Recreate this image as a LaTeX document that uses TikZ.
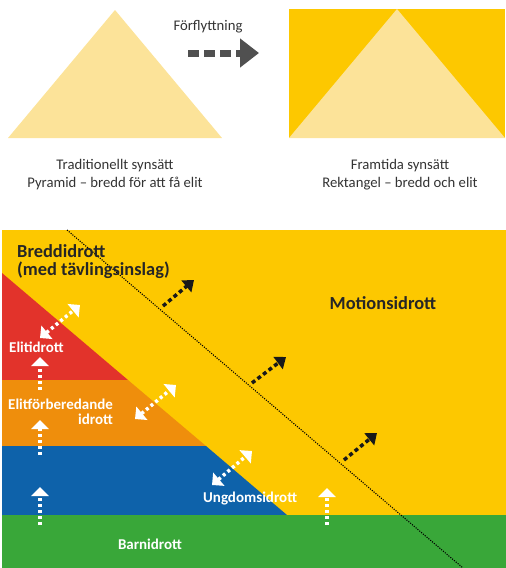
\documentclass[tikz,border=0pt]{standalone}
\usepackage{fontspec}
\setmainfont{Carlito}
\usepackage{tikz}
\usetikzlibrary{arrows.meta, positioning}
\usepackage{xcolor}

\definecolor{ljusgul}{HTML}{FCE399}
\definecolor{gul}{HTML}{FDC800}
\definecolor{rod}{HTML}{E2332B}
\definecolor{orangeband}{HTML}{EF8E0C}
\definecolor{bla}{HTML}{0E62AA}
\definecolor{gron}{HTML}{39A739}
\definecolor{gra}{HTML}{505050}

\tikzstyle{rubrik} = [text=black!80, font=\fontsize{14.7}{18}\selectfont, align=center]
\tikzstyle{vit} = [text=white, font=\bfseries\fontsize{15}{15}\selectfont, inner sep=0pt]
\tikzstyle{svart} = [text=black!85, font=\bfseries\fontsize{18.4}{18}\selectfont, inner sep=0pt]
\tikzstyle{upp} = [white, line width=3.5pt, dash pattern=on 3pt off 3pt, -{Triangle[length=9pt,width=17pt]}]
\tikzstyle{dubbel} = [upp, {Triangle[length=9pt,width=17pt]}-{Triangle[length=9pt,width=17pt]}]
\tikzstyle{fram} = [black!90, line width=3.5pt, dash pattern=on 4pt off 3pt, -{Triangle[length=10pt,width=15pt]}]

\begin{document}
\begin{tikzpicture}[x=1pt, y=-1pt]
        \useasboundingbox (0,0) rectangle (506,568);
        % pyramid and rectangle
        \fill[ljusgul] (8,138) -- (115,10) -- (222,138) -- cycle;
        \fill[gul] (289,9) rectangle (505,138);
        \fill[ljusgul] (289,138) -- (397,9) -- (505,138) -- cycle;
        \node[rubrik] (trad) at (115,175) {Traditionellt synsätt\\Pyramid – bredd för att få elit};
        \node[rubrik] (framtid) at (400,175) {Framtida synsätt\\Rektangel – bredd och elit};
        \node[rubrik] (flytt) at (208,27) {Förflyttning};
        \coordinate (p1) at (188,53);
        \coordinate (p2) at (259,53);
        \draw[gra, line width=7pt, dash pattern=on 11pt off 5pt, -{Triangle[length=19pt,width=28pt]}] (p1) -- (p2);

        % bands
        \fill[gul] (2,230) rectangle (506,568);
        \fill[rod] (2,273) -- (128,380) -- (2,380) -- cycle;
        \fill[orangeband] (2,380) -- (128,380) -- (206,446) -- (2,446) -- cycle;
        \fill[bla] (2,446) -- (206,446) -- (287,515) -- (2,515) -- cycle;
        \fill[gron] (2,515) rectangle (506,568);
        \coordinate (d1) at (67,230);
        \coordinate (d2) at (463,568);
        \draw[black, line width=1.1pt, dash pattern=on 1.1pt off 1.3pt] (d1) -- (d2);

        % labels
        \node[svart, anchor=west, align=left] (bredd) at (17,262) {Breddidrott\\(med tävlingsinslag)};
        \node[svart] (motion) at (383,303) {Motionsidrott};
        \node[vit, anchor=west] (elit) at (9,347) {Elitidrott};
        \node[vit, anchor=west, align=right] (elitfb) at (8,412) {Elitförberedande\\idrott};
        \node[vit, anchor=west] (ungdom) at (203,499) {Ungdomsidrott};
        \node[vit] (barn) at (150,544) {Barnidrott};

        % arrows
        \coordinate (u1a) at (40,390); \coordinate (u1b) at (40,357);
        \coordinate (u2a) at (40,455); \coordinate (u2b) at (40,420);
        \coordinate (u3a) at (40,525); \coordinate (u3b) at (40,487);
        \coordinate (u4a) at (327,525); \coordinate (u4b) at (327,488);
        \draw[upp] (u1a) -- (u1b);
        \draw[upp] (u2a) -- (u2b);
        \draw[upp] (u3a) -- (u3b);
        \draw[upp] (u4a) -- (u4b);
        \coordinate (v1a) at (40,338); \coordinate (v1b) at (80,305);
        \coordinate (v2a) at (135,419); \coordinate (v2b) at (176,385);
        \coordinate (v3a) at (212,485); \coordinate (v3b) at (252,451);
        \draw[dubbel] (v1a) -- (v1b);
        \draw[dubbel] (v2a) -- (v2b);
        \draw[dubbel] (v3a) -- (v3b);
        \coordinate (s1a) at (163,306); \coordinate (s1b) at (194,280);
        \coordinate (s2a) at (252,383); \coordinate (s2b) at (286,357);
        \coordinate (s3a) at (344,460); \coordinate (s3b) at (377,433);
        \draw[fram] (s1a) -- (s1b);
        \draw[fram] (s2a) -- (s2b);
        \draw[fram] (s3a) -- (s3b);
      \end{tikzpicture}
\end{document}
